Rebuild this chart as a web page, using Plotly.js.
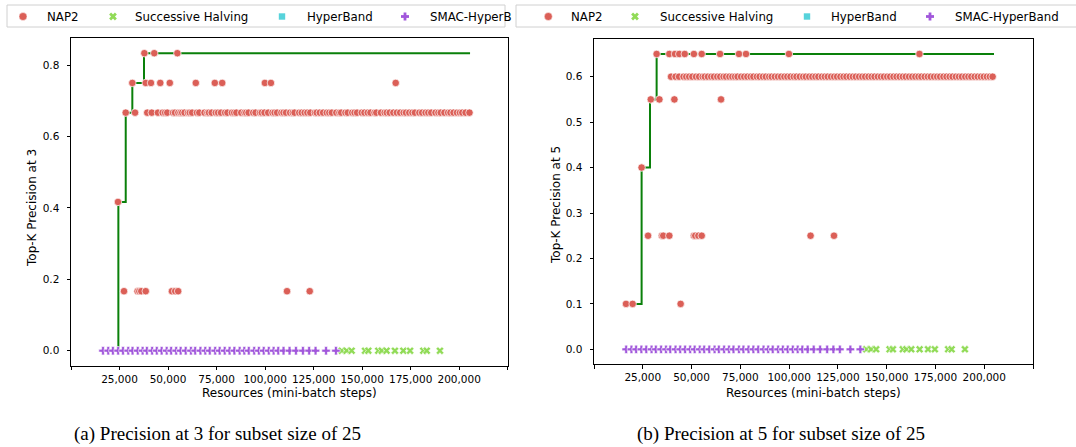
<!DOCTYPE html>
<html>
<head>
<meta charset="utf-8">
<script src="https://cdn.plot.ly/plotly-3.0.1.min.js"></script>
<style>html,body{margin:0;padding:0;background:#fff;}#chart{width:1076px;height:447px;}</style>
</head>
<body>
<div id="chart"></div>
<script>
// ---------------- DATA ----------------
const seriesNames = ["NAP2", "Successive Halving", "HyperBand", "SMAC-HyperBand"];
const xTickVals = [0, 25000, 50000, 75000, 100000, 125000, 150000, 175000, 200000, 225000];
const xTickText = ["", "25,000", "50,000", "75,000", "100,000", "125,000", "150,000", "175,000", "200,000", ""];

// Panel (a): Precision at 3 — NAP2 points, grouped by value level
const p3Levels = [0.8333, 0.75, 0.6667, 0.4167, 0.1667];
const p3_x_0833 = [37800, 42900, 54800];
const p3_x_0750 = [31600, 38500, 41200, 46000, 50900, 64300, 74100, 77900, 99900, 103000, 167300];
const p3_x_0667 = [28200, 33000, 39300, 41600, 44800, 47200, 48500, 49600, 52600, 53600, 55300, 56400, 57300, 58500, 60300, 61200, 62400, 64900, 66100, 68800, 70300, 71100, 72500, 74600, 75800, 77300, 79400, 80600, 82900, 84100, 85200, 87700, 89400, 90300, 91500, 93900, 95100, 97400, 98300, 99700, 101600, 103800, 104900, 106200, 108400, 109500, 110800, 112900, 114300, 115200, 117600, 118900, 120400, 121800, 123300, 125700, 126600, 128200, 129900, 131800, 133100, 134400, 136700, 138300, 139200, 141400, 142600, 144900, 146100, 147400, 149800, 151200, 152900, 154300, 156400, 157300, 159700, 161600, 162700, 164200, 166100, 167900, 169600, 171400, 172600, 174300, 175900, 177200, 179500, 180900, 182700, 184100, 185600, 187800, 189300, 190500, 192400, 194300, 195500, 197100, 198900, 200400, 201600, 203300, 205300];
const p3_x_0417 = [24200];
const p3_x_0167 = [27300, 34300, 35200, 36200, 38500, 52000, 53700, 55200, 111300, 123000];
// best-so-far step line (a)
const p3_best_x = [15800, 24400, 28200, 31600, 37600, 205600];
const p3_best_y = [0, 0.4167, 0.6667, 0.75, 0.8333, 0.8333];

// Panel (b): Precision at 5 — NAP2 points, grouped by value level
const p5Levels = [0.65, 0.6, 0.55, 0.4, 0.25, 0.1];
const p5_x_065 = [32100, 38600, 41500, 43700, 46500, 51200, 55200, 64600, 74300, 77900, 99900, 166800];
const p5_x_060 = [39500, 41800, 43600, 45900, 47300, 48800, 50400, 52300, 53900, 55700, 56800, 58400, 60100, 61500, 63200, 64700, 66400, 67700, 69400, 70900, 72300, 73600, 75400, 77000, 78600, 80300, 81700, 83500, 84900, 86600, 88100, 89800, 91100, 92700, 94300, 95900, 97600, 99100, 100700, 102400, 103800, 105500, 107200, 108600, 110300, 111900, 113500, 115000, 116800, 118300, 119800, 121500, 123100, 124600, 126300, 127900, 129400, 131100, 132700, 134200, 135900, 137500, 139000, 140700, 142300, 143800, 145500, 147100, 148600, 150300, 151800, 153500, 155100, 156700, 158300, 159800, 161500, 163100, 164700, 166300, 167800, 169500, 171100, 172600, 174300, 175900, 177400, 179100, 180700, 182300, 183800, 185500, 187100, 188600, 190300, 191900, 193400, 195100, 196700, 198300, 199800, 201400, 202900, 204300];
const p5_x_055 = [29100, 33500, 41200, 65100];
const p5_x_040 = [24400];
const p5_x_025 = [27700, 34800, 35500, 38600, 51200, 51900, 53500, 55200, 111000, 123000];
const p5_x_010 = [16400, 19800, 44400];
const p5_best_x = [16400, 24400, 28700, 32100, 205000];
const p5_best_y = [0.1, 0.4, 0.55, 0.65, 0.65];

// Baselines (all at 0 precision in both panels)
const sh_x = [139500, 142000, 144600, 151500, 153200, 158300, 160100, 162600, 166900, 171200, 174700, 181500, 183300, 190100];
const hb_x = [];
const smac_x = [16500, 19200, 21600, 24300, 26800, 29500, 31700, 34400, 36900, 39100, 41800, 44200, 46700, 49300, 51600, 54200, 56500, 59100, 61800, 64000, 66700, 69200, 71500, 74300, 76600, 79200, 81700, 84200, 86900, 89300, 91600, 94400, 96800, 99300, 101900, 104400, 106800, 109500, 112600, 115900, 119500, 122700, 126000, 131400, 136500];

// ---------------- STYLE ----------------
const W = 1076, H = 447;
const fx = p => p / W;
const fy = p => 1 - p / H;
const C_RED = "#db5f57", C_GRN = "#91db57", C_CYN = "#57d3db", C_PUR = "#a157db";
const FONT = "DejaVu Sans";

function flatten(levels, groups) {
  const xs = [], ys = [];
  groups.forEach((g, i) => g.forEach(v => { xs.push(v); ys.push(levels[i]); }));
  return {x: xs, y: ys};
}
const p3 = flatten(p3Levels, [p3_x_0833, p3_x_0750, p3_x_0667, p3_x_0417, p3_x_0167]);
const p5 = flatten(p5Levels, [p5_x_065, p5_x_060, p5_x_055, p5_x_040, p5_x_025, p5_x_010]);
const zeros = arr => arr.map(() => 0);

function panelTraces(xa, ya, pts, bx, by) {
  return [
    {type: "scatter", mode: "lines", x: bx, y: by, xaxis: xa, yaxis: ya, line: {shape: "hv", color: "#0a800a", width: 2}, showlegend: false, hoverinfo: "skip"},
    {type: "scatter", mode: "markers", name: seriesNames[0], x: pts.x, y: pts.y, xaxis: xa, yaxis: ya,
     marker: {symbol: "circle", size: 7.5, color: C_RED, line: {color: "#ffffff", width: 0.7}}, showlegend: false},
    {type: "scatter", mode: "markers", name: seriesNames[1], x: sh_x, y: zeros(sh_x), xaxis: xa, yaxis: ya,
     marker: {symbol: "x", size: 7, color: C_GRN, line: {color: "#ffffff", width: 0.6}}, showlegend: false},
    {type: "scatter", mode: "markers", name: seriesNames[2], x: hb_x, y: zeros(hb_x), xaxis: xa, yaxis: ya,
     marker: {symbol: "square", size: 6, color: C_CYN, line: {color: "#ffffff", width: 0.6}}, showlegend: false},
    {type: "scatter", mode: "markers", name: seriesNames[3], x: smac_x, y: zeros(smac_x), xaxis: xa, yaxis: ya,
     marker: {symbol: "cross", size: 7, color: C_PUR, line: {color: "#ffffff", width: 0.6}}, showlegend: false}
  ];
}

const data = [].concat(
  panelTraces("x", "y", p3, p3_best_x, p3_best_y),
  panelTraces("x2", "y2", p5, p5_best_x, p5_best_y)
);

const baseX = {
  range: [0, 225000], tickvals: xTickVals, ticktext: xTickText,
  ticks: "outside", ticklen: 3.5, tickwidth: 1, tickcolor: "#000",
  showline: true, mirror: true, linecolor: "#000", linewidth: 1,
  showgrid: false, zeroline: false, fixedrange: true,
  tickfont: {family: FONT, size: 10.5, color: "#000"}, ticklabelstandoff: 0
};
const baseY = {
  ticks: "outside", ticklen: 3.5, tickwidth: 1, tickcolor: "#000",
  showline: true, mirror: true, linecolor: "#000", linewidth: 1,
  showgrid: false, zeroline: false, fixedrange: true, tickformat: ".1f",
  tickfont: {family: FONT, size: 10.5, color: "#000"}, ticklabelstandoff: 5
};

const layout = {
  width: W, height: H, margin: {l: 0, r: 0, t: 0, b: 0},
  paper_bgcolor: "#fff", plot_bgcolor: "#fff", showlegend: false,
  xaxis: Object.assign({}, baseX, {domain: [fx(71), fx(507.7)], anchor: "y"}),
  yaxis: Object.assign({}, baseY, {domain: [fy(365.6), fy(38.3)], anchor: "x", range: [-0.04167, 0.875], tickvals: [0, 0.2, 0.4, 0.6, 0.8]}),
  xaxis2: Object.assign({}, baseX, {domain: [fx(594), fx(1033)], anchor: "y2"}),
  yaxis2: Object.assign({}, baseY, {domain: [fy(364.1), fy(39.2)], anchor: "x2", range: [-0.0325, 0.6825], tickvals: [0, 0.1, 0.2, 0.3, 0.4, 0.5, 0.6]}),
  shapes: [],
  annotations: []
};

// axis titles and captions
const ann = (text, x, y, opts) => Object.assign({text, x: fx(x), y: fy(y), xref: "paper", yref: "paper", showarrow: false,
  font: {family: FONT, size: 12, color: "#000"}, xanchor: "center", yanchor: "middle"}, opts || {});
layout.annotations.push(ann("Resources (mini-batch steps)", 289.4, 393));
layout.annotations.push(ann("Resources (mini-batch steps)", 813.5, 393));
layout.annotations.push(ann("Top-K Precision at 3", 32, 208, {textangle: -90}));
layout.annotations.push(ann("Top-K Precision at 5", 556, 205, {textangle: -90}));
layout.annotations.push(ann("(a) Precision at 3 for subset size of 25", 217, 434, {font: {family: "Liberation Serif", size: 19, color: "#000"}}));
layout.annotations.push(ann("(b) Precision at 5 for subset size of 25", 781, 434, {font: {family: "Liberation Serif", size: 19, color: "#000"}}));

// legends (drawn manually, one boxed row per panel)
function legendRow(box, marks, texts, labels) {
  layout.shapes.push({type: "rect", xref: "paper", yref: "paper", x0: fx(box[0]), x1: fx(box[1]), y0: fy(27), y1: fy(5),
    line: {color: "#d0d0d0", width: 1}, fillcolor: "#fff", layer: "above"});
  const cy = 16.5;
  // circle
  layout.shapes.push({type: "circle", xref: "paper", yref: "paper", x0: fx(marks[0] - 4), x1: fx(marks[0] + 4), y0: fy(cy + 4), y1: fy(cy - 4),
    fillcolor: C_RED, line: {color: "#fff", width: 0.5}, layer: "above"});
  // X
  const s = 2.9;
  [[-1, -1, 1, 1], [-1, 1, 1, -1]].forEach(d => layout.shapes.push({type: "line", xref: "paper", yref: "paper",
    x0: fx(marks[1] + d[0] * s), y0: fy(cy + d[1] * s), x1: fx(marks[1] + d[2] * s), y1: fy(cy + d[3] * s),
    line: {color: C_GRN, width: 2.8}, layer: "above"}));
  // square
  layout.shapes.push({type: "rect", xref: "paper", yref: "paper", x0: fx(marks[2] - 3.2), x1: fx(marks[2] + 3.2), y0: fy(cy + 3.2), y1: fy(cy - 3.2),
    fillcolor: C_CYN, line: {width: 0}, layer: "above"});
  // plus
  const p = 4;
  layout.shapes.push({type: "line", xref: "paper", yref: "paper", x0: fx(marks[3] - p), x1: fx(marks[3] + p), y0: fy(cy), y1: fy(cy), line: {color: C_PUR, width: 2.8}, layer: "above"});
  layout.shapes.push({type: "line", xref: "paper", yref: "paper", x0: fx(marks[3]), x1: fx(marks[3]), y0: fy(cy - p), y1: fy(cy + p), line: {color: C_PUR, width: 2.8}, layer: "above"});
  labels.forEach((t, i) => layout.annotations.push(ann(t, texts[i], cy, {xanchor: "left", font: {family: FONT, size: 11.8, color: "#000"}})));
}
legendRow([7, 505], [23, 113, 282, 405], [45, 133, 305, 428], ["NAP2", "Successive Halving", "HyperBand", "SMAC-HyperB"]);
legendRow([516, 1082], [548.3, 635, 807, 930], [569.3, 658, 829.3, 952.7], seriesNames);

Plotly.newPlot("chart", data, layout, {displayModeBar: false, staticPlot: true});
</script>
</body>
</html>
